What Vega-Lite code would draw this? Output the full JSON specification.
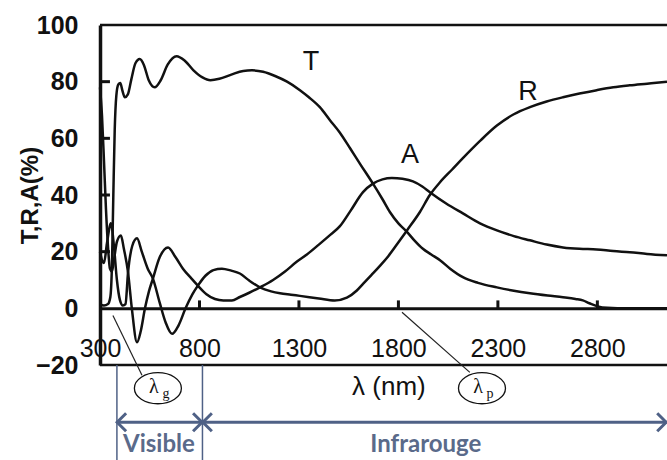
{
 "$schema": "https://vega.github.io/schema/vega-lite/v6.json",
 "width": 567,
 "height": 340,
 "autosize": {"type": "none"},
 "padding": {"left": 100, "top": 25, "right": 0, "bottom": 95},
 "background": "white",
 "config": {
  "font": "Liberation Sans",
  "view": {"stroke": null},
  "axis": {"grid": false, "domainColor": "#111", "tickColor": "#111", "labelColor": "#111", "titleColor": "#111"}
 },
 "datasets": {
  "curves": [
   {"s":"T","nm":300,"v":1.5},{"s":"T","nm":320,"v":1},{"s":"T","nm":340,"v":1.5},{"s":"T","nm":352,"v":4},{"s":"T","nm":360,"v":15},{"s":"T","nm":367,"v":40},{"s":"T","nm":374,"v":63},{"s":"T","nm":382,"v":75},{"s":"T","nm":392,"v":79},{"s":"T","nm":402,"v":79.5},{"s":"T","nm":412,"v":77},{"s":"T","nm":425,"v":74.5},{"s":"T","nm":440,"v":75.5},{"s":"T","nm":458,"v":81},{"s":"T","nm":478,"v":86.5},{"s":"T","nm":500,"v":88},{"s":"T","nm":520,"v":86},{"s":"T","nm":545,"v":80.5},{"s":"T","nm":575,"v":78},{"s":"T","nm":605,"v":80.5},{"s":"T","nm":640,"v":86},{"s":"T","nm":685,"v":89},{"s":"T","nm":725,"v":87.5},{"s":"T","nm":770,"v":84},{"s":"T","nm":815,"v":81.5},{"s":"T","nm":855,"v":80.5},{"s":"T","nm":900,"v":81},{"s":"T","nm":960,"v":82.5},{"s":"T","nm":1020,"v":83.8},{"s":"T","nm":1064,"v":84},{"s":"T","nm":1120,"v":83.5},{"s":"T","nm":1180,"v":82},{"s":"T","nm":1240,"v":80},{"s":"T","nm":1305,"v":77},{"s":"T","nm":1350,"v":74.5},{"s":"T","nm":1405,"v":71},{"s":"T","nm":1455,"v":66.5},{"s":"T","nm":1506,"v":62},{"s":"T","nm":1557,"v":56.5},{"s":"T","nm":1607,"v":51},{"s":"T","nm":1672,"v":44},{"s":"T","nm":1720,"v":38.5},{"s":"T","nm":1757,"v":34},{"s":"T","nm":1800,"v":30},{"s":"T","nm":1843,"v":27},{"s":"T","nm":1880,"v":24},{"s":"T","nm":1923,"v":21},{"s":"T","nm":1965,"v":19},{"s":"T","nm":2009,"v":17},{"s":"T","nm":2060,"v":14},{"s":"T","nm":2124,"v":11},{"s":"T","nm":2200,"v":9},{"s":"T","nm":2295,"v":7.4},{"s":"T","nm":2380,"v":6.2},{"s":"T","nm":2461,"v":5.3},{"s":"T","nm":2550,"v":4.5},{"s":"T","nm":2627,"v":3.9},{"s":"T","nm":2690,"v":3.3},{"s":"T","nm":2727,"v":2.8},{"s":"T","nm":2760,"v":1.8},{"s":"T","nm":2802,"v":0.7},{"s":"T","nm":2850,"v":0.2},{"s":"T","nm":2950,"v":0},{"s":"T","nm":3150,"v":0},
   {"s":"A","nm":300,"v":78},{"s":"A","nm":310,"v":68},{"s":"A","nm":320,"v":52},{"s":"A","nm":330,"v":35},{"s":"A","nm":340,"v":22},{"s":"A","nm":350,"v":14},{"s":"A","nm":360,"v":13},{"s":"A","nm":372,"v":18},{"s":"A","nm":385,"v":23.5},{"s":"A","nm":405,"v":25.7},{"s":"A","nm":420,"v":21},{"s":"A","nm":441,"v":12.7},{"s":"A","nm":460,"v":0},{"s":"A","nm":486,"v":-12},{"s":"A","nm":505,"v":-8},{"s":"A","nm":526,"v":0},{"s":"A","nm":546,"v":6},{"s":"A","nm":566,"v":10.5},{"s":"A","nm":600,"v":18},{"s":"A","nm":642,"v":21.5},{"s":"A","nm":680,"v":18},{"s":"A","nm":717,"v":14},{"s":"A","nm":760,"v":10.5},{"s":"A","nm":792,"v":8},{"s":"A","nm":835,"v":5},{"s":"A","nm":878,"v":3.3},{"s":"A","nm":920,"v":2.8},{"s":"A","nm":963,"v":2.8},{"s":"A","nm":1003,"v":4},{"s":"A","nm":1050,"v":5.5},{"s":"A","nm":1104,"v":7.4},{"s":"A","nm":1170,"v":10},{"s":"A","nm":1230,"v":13},{"s":"A","nm":1290,"v":16.5},{"s":"A","nm":1340,"v":19},{"s":"A","nm":1400,"v":22.5},{"s":"A","nm":1450,"v":25.5},{"s":"A","nm":1506,"v":29},{"s":"A","nm":1560,"v":34.5},{"s":"A","nm":1622,"v":41},{"s":"A","nm":1672,"v":44},{"s":"A","nm":1720,"v":45.5},{"s":"A","nm":1767,"v":46},{"s":"A","nm":1820,"v":45.7},{"s":"A","nm":1873,"v":44.8},{"s":"A","nm":1920,"v":43},{"s":"A","nm":1958,"v":41},{"s":"A","nm":2040,"v":37},{"s":"A","nm":2124,"v":33.5},{"s":"A","nm":2210,"v":30},{"s":"A","nm":2295,"v":27.5},{"s":"A","nm":2380,"v":25.5},{"s":"A","nm":2461,"v":24},{"s":"A","nm":2545,"v":22.5},{"s":"A","nm":2627,"v":21.5},{"s":"A","nm":2710,"v":21},{"s":"A","nm":2797,"v":20.8},{"s":"A","nm":2880,"v":20.2},{"s":"A","nm":2963,"v":19.8},{"s":"A","nm":3050,"v":19.2},{"s":"A","nm":3150,"v":18.7},
   {"s":"R","nm":300,"v":20},{"s":"R","nm":310,"v":17},{"s":"R","nm":320,"v":16},{"s":"R","nm":335,"v":23},{"s":"R","nm":355,"v":30},{"s":"R","nm":370,"v":22},{"s":"R","nm":385,"v":10},{"s":"R","nm":400,"v":3},{"s":"R","nm":415,"v":1},{"s":"R","nm":428,"v":1.5},{"s":"R","nm":441,"v":12.7},{"s":"R","nm":462,"v":22},{"s":"R","nm":486,"v":24.7},{"s":"R","nm":510,"v":20},{"s":"R","nm":540,"v":14},{"s":"R","nm":566,"v":10.5},{"s":"R","nm":600,"v":2},{"s":"R","nm":630,"v":-5},{"s":"R","nm":662,"v":-9},{"s":"R","nm":695,"v":-6},{"s":"R","nm":730,"v":0},{"s":"R","nm":765,"v":5},{"s":"R","nm":792,"v":8},{"s":"R","nm":830,"v":11.5},{"s":"R","nm":870,"v":13.5},{"s":"R","nm":913,"v":14},{"s":"R","nm":960,"v":13.3},{"s":"R","nm":1003,"v":12.3},{"s":"R","nm":1050,"v":9.8},{"s":"R","nm":1104,"v":7.4},{"s":"R","nm":1160,"v":6},{"s":"R","nm":1205,"v":5.3},{"s":"R","nm":1260,"v":4.8},{"s":"R","nm":1305,"v":4.4},{"s":"R","nm":1400,"v":3.5},{"s":"R","nm":1480,"v":2.8},{"s":"R","nm":1541,"v":3.8},{"s":"R","nm":1591,"v":6.3},{"s":"R","nm":1622,"v":8.6},{"s":"R","nm":1665,"v":11.8},{"s":"R","nm":1707,"v":15},{"s":"R","nm":1750,"v":18.5},{"s":"R","nm":1792,"v":22.5},{"s":"R","nm":1843,"v":27.5},{"s":"R","nm":1908,"v":34},{"s":"R","nm":1958,"v":40},{"s":"R","nm":2009,"v":44.5},{"s":"R","nm":2070,"v":49},{"s":"R","nm":2124,"v":53},{"s":"R","nm":2209,"v":59},{"s":"R","nm":2295,"v":64.5},{"s":"R","nm":2380,"v":68.5},{"s":"R","nm":2461,"v":71},{"s":"R","nm":2545,"v":73},{"s":"R","nm":2627,"v":74.5},{"s":"R","nm":2710,"v":75.8},{"s":"R","nm":2797,"v":77},{"s":"R","nm":2880,"v":78},{"s":"R","nm":2963,"v":78.7},{"s":"R","nm":3050,"v":79.3},{"s":"R","nm":3150,"v":80}
  ],
  "tar": [{"t":"T","nm":1360,"v":86.8},{"t":"A","nm":1858,"v":54},{"t":"R","nm":2451,"v":76.2}],
  "frame": [{"nm":300,"nm2":3150,"v":100},{"nm":300,"nm2":3150,"v":-20}],
  "xticks": [{"nm":800,"v":0,"v2":2.8},{"nm":1300,"v":0,"v2":2.8},{"nm":1800,"v":0,"v2":2.8},{"nm":2300,"v":0,"v2":2.8},{"nm":2800,"v":0,"v2":2.8}],
  "yticks": [{"nm":300,"nm2":350,"v":20},{"nm":300,"nm2":350,"v":40},{"nm":300,"nm2":350,"v":60},{"nm":300,"nm2":350,"v":80}],
  "ptr": [{"nm":365,"v":-2.5,"nm2":511,"v2":-23.6},{"nm":1818,"v":-1.4,"nm2":2159,"v2":-22.6}],
  "circ": [{"nm":591,"v":-28.2,"sub":"g"},{"nm":2220,"v":-28.2,"sub":"p"}],
  "xt": [{"nm":1752,"v":-27.6,"t":"λ (nm)"}],
  "vl": [{"nm":385,"v":-20,"v2":-54},{"nm":815,"v":-20,"v2":-54}],
  "ha": [{"nm":385,"nm2":3150,"v":-40.2}],
  "chev": [{"nm":386,"v":-40.2,"d":"l"},{"nm":813,"v":-40.2,"d":"r"},{"nm":817,"v":-40.2,"d":"l"},{"nm":3146,"v":-40.2,"d":"r"}],
  "zones": [{"nm":596,"v":-48.3,"t":"Visible"},{"nm":1938,"v":-48.3,"t":"Infrarouge"}]
 },
 "encoding": {
  "x": {"field":"nm","type":"quantitative","scale":{"domain":[300,3150],"nice":false,"zero":false},
        "axis":{"values":[300,800,1300,1800,2300,2800],"title":null,"offset":-56.67,"format":"d","labelFontSize":25,"labelFlush":false,"labelOverlap":false,"labelPadding":28,"ticks":false,"domainWidth":3}},
  "y": {"field":"v","type":"quantitative","scale":{"domain":[-20,100],"nice":false,"zero":false},
        "axis":{"values":[-20,0,20,40,60,80,100],"title":"T,R,A(%)","titleFontSize":24,"titleFontWeight":"bold","titleX":-70,"titleY":170,"titleAngle":270,"titleAlign":"center","titleBaseline":"middle","labelFontSize":25,"labelFontWeight":"bold","labelPadding":22,"ticks":false,"domainWidth":3.5,"labelFlush":false,"labelOverlap":false}}
 },
 "layer": [
  {"data":{"name":"frame"},"mark":{"type":"rule","color":"#111","strokeWidth":2.5},"encoding":{"x2":{"field":"nm2"}}},
  {"data":{"name":"xticks"},"mark":{"type":"rule","color":"#111","strokeWidth":3},"encoding":{"y2":{"field":"v2"}}},
  {"data":{"name":"yticks"},"mark":{"type":"rule","color":"#111","strokeWidth":3},"encoding":{"x2":{"field":"nm2"}}},
  {"data":{"name":"curves"},"mark":{"type":"line","color":"#111","strokeWidth":2.5,"interpolate":"monotone"},"encoding":{"detail":{"field":"s"}}},
  {"data":{"name":"tar"},"mark":{"type":"text","fontSize":27,"color":"#111"},"encoding":{"text":{"field":"t"}}},
  {"data":{"name":"ptr"},"mark":{"type":"rule","color":"#222","strokeWidth":1.2},"encoding":{"x2":{"field":"nm2"},"y2":{"field":"v2"}}},
  {"data":{"name":"circ"},"mark":{"type":"point","shape":"M-1,0A1,0.66 0 1,1 1,0A1,0.66 0 1,1 -1,0Z","filled":false,"size":2209,"color":"#111","strokeWidth":1.3,"opacity":1}},
  {"data":{"name":"circ"},"mark":{"type":"text","text":"λ","font":"Liberation Serif","fontSize":20,"dx":-4,"dy":-1,"color":"#111"}},
  {"data":{"name":"circ"},"mark":{"type":"text","font":"Liberation Serif","fontSize":14,"dx":8,"dy":6,"color":"#111"},"encoding":{"text":{"field":"sub"}}},
  {"data":{"name":"xt"},"mark":{"type":"text","fontSize":26,"color":"#111"},"encoding":{"text":{"field":"t"}}},
  {"data":{"name":"vl"},"mark":{"type":"rule","color":"#4f6186","strokeWidth":1.5},"encoding":{"y2":{"field":"v2"}}},
  {"data":{"name":"ha"},"mark":{"type":"rule","color":"#4f6186","strokeWidth":3},"encoding":{"x2":{"field":"nm2"}}},
  {"data":{"name":"chev"},"mark":{"type":"point","filled":false,"size":324,"color":"#4f6186","strokeWidth":3,"opacity":1},"encoding":{"shape":{"field":"d","type":"nominal","scale":{"domain":["l","r"],"range":["M1,-1L0,0L1,1","M-1,-1L0,0L-1,1"]},"legend":null}}},
  {"data":{"name":"zones"},"mark":{"type":"text","font":"Lato","fontWeight":"bold","fontSize":24,"color":"#5a6a8a"},"encoding":{"text":{"field":"t"}}}
 ]
}
